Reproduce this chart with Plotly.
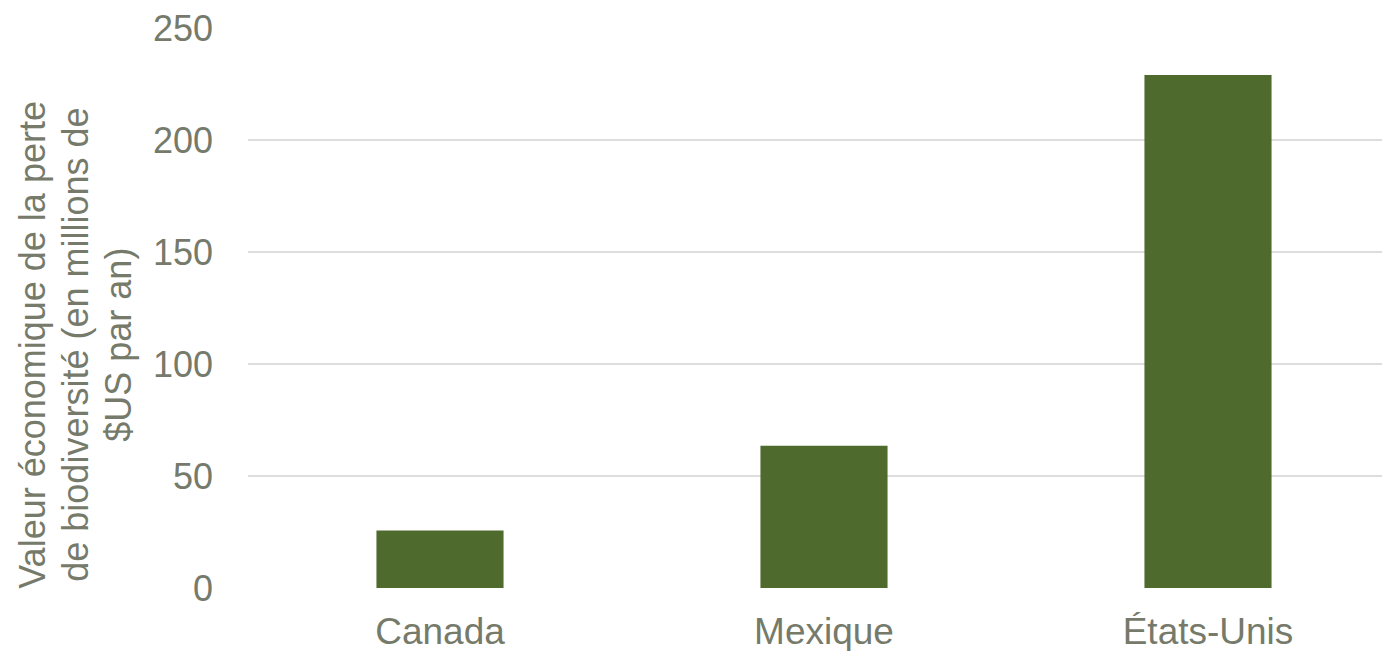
import plotly.graph_objects as go

categories = ["Canada", "Mexique", "États-Unis"]
values = [25.7, 63.5, 229]
y_ticks = [0, 50, 100, 150, 200, 250]
title_lines = [
    "Valeur économique de la perte",
    "de biodiversité (en millions de",
    "$US par an)",
]

W, H = 1382, 651
L, R, T, B = 248, 0, 28, 62.5
pw = W - L - R
ph = H - T - B

text_color = "#767A6A"
font_family = "Liberation Sans, Arial, sans-serif"

fig = go.Figure(
    go.Bar(
        x=list(range(len(categories))),
        y=values,
        marker=dict(color="#4E6B2D", line=dict(width=0)),
        width=0.331,
    )
)

# y title lines as separate rotated annotations
line_px = [33, 76, 119]
annotations = []
for txt, px in zip(title_lines, line_px):
    annotations.append(
        dict(
            text=txt,
            x=(px - L) / pw,
            y=(H - B - 345) / ph,
            xref="paper",
            yref="paper",
            xanchor="center",
            yanchor="middle",
            textangle=-90,
            showarrow=False,
            font=dict(size=36, color=text_color, family=font_family),
        )
    )

fig.update_layout(
    width=W,
    height=H,
    margin=dict(l=L, r=R, t=T, b=B, pad=0, autoexpand=False),
    plot_bgcolor="white",
    paper_bgcolor="white",
    showlegend=False,
    annotations=annotations,
    font=dict(family=font_family, size=36, color=text_color),
)
fig.update_xaxes(
    tickmode="array",
    tickvals=list(range(len(categories))),
    ticktext=categories,
    range=[-0.5, -0.5 + pw / 384.0],
    showgrid=False,
    zeroline=False,
    showline=False,
    ticks="",
    automargin=False,
    tickfont=dict(size=37, color=text_color),
    ticklabelstandoff=18,
)
fig.update_yaxes(
    range=[0, 250],
    tickmode="array",
    tickvals=y_ticks,
    showgrid=True,
    gridcolor="#DDDDDD",
    gridwidth=1.5,
    zeroline=False,
    showline=False,
    ticks="",
    automargin=False,
    tickfont=dict(size=36, color=text_color),
    ticklabelstandoff=34,
)

fig.write_html("out.html", config={"displayModeBar": False})
